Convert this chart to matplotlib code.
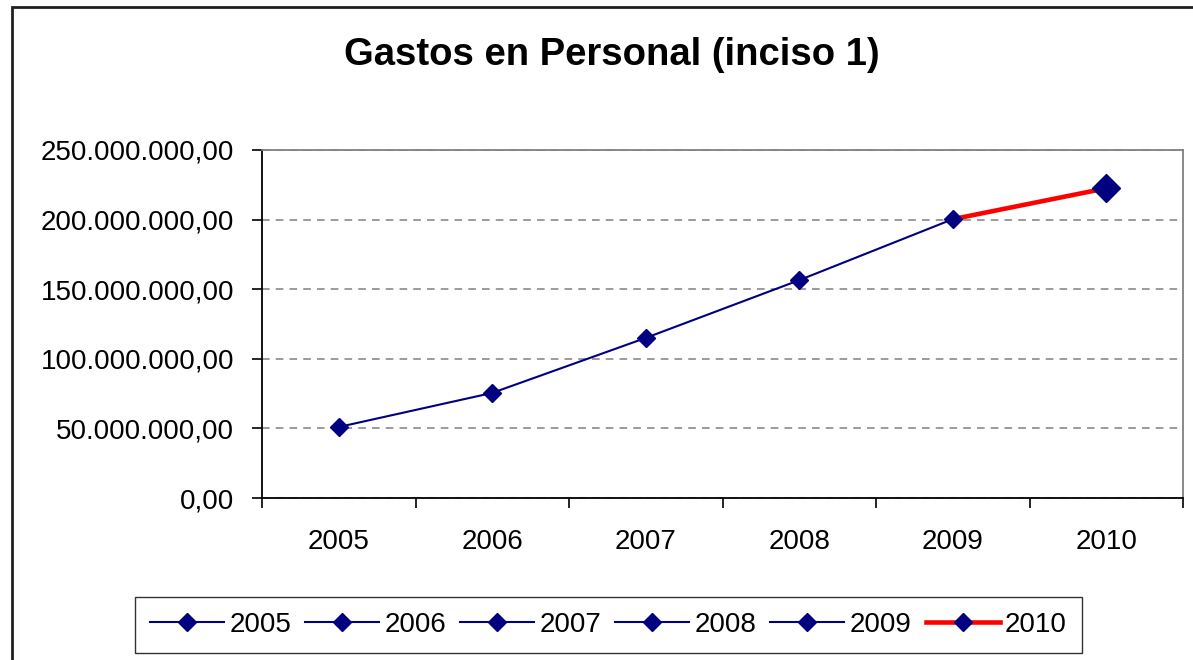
import numpy as np
import matplotlib.pyplot as plt
from matplotlib.lines import Line2D
from matplotlib.patches import Rectangle
from matplotlib.ticker import FuncFormatter, MultipleLocator

plt.rcParams['font.family'] = ['Liberation Sans', 'DejaVu Sans']

# ---------- data ----------
years = ['2005', '2006', '2007', '2008', '2009', '2010']
gastos = [51.0e6, 75.5e6, 115.0e6, 156.5e6, 200.3e6, 222.5e6]
legend_labels = ['2005', '2006', '2007', '2008', '2009', '2010']
title = 'Gastos en Personal (inciso 1)'

navy = '#000080'
red = '#ff0000'
W, H, DPI = 1193, 660, 100


def fmt_es(v, pos=None):
    s = '{:,.2f}'.format(v)
    return s.replace(',', 'X').replace('.', ',').replace('X', '.')


# ---------- plotting ----------
fig = plt.figure(figsize=(W / DPI, H / DPI), dpi=DPI)
ax = fig.add_axes([262 / W, 1 - 498 / H, (1183 - 262) / W, (498 - 150) / H])

x = np.arange(len(years))

# red segment (last two points)
ax.plot(x[4:], gastos[4:], color=red, lw=3.3, zorder=2, solid_capstyle='butt')
# main series
ax.plot(x[:5], gastos[:5], color=navy, lw=1.5, marker='D', ms=8.7,
        markeredgecolor=navy, zorder=3)
# last point, bigger marker
ax.plot(x[5:], gastos[5:], linestyle='none', marker='D', ms=14.5,
        color=navy, zorder=4)

ax.set_xlim(-0.5, len(years) - 0.5)
ax.set_ylim(0, 250e6)
ax.yaxis.set_major_locator(MultipleLocator(50e6))
ax.yaxis.set_major_formatter(FuncFormatter(fmt_es))

# category boundaries get the tick marks, labels sit in between
ax.set_xticks(np.arange(len(years) + 1) - 0.5, minor=False)
ax.set_xticklabels([])
ax.set_xticks(x, minor=True)
ax.set_xticklabels(years, minor=True)
ax.tick_params(axis='x', which='minor', length=0, labelsize=20, pad=22)
ax.tick_params(axis='x', which='major', direction='out', length=7, width=1.2, color='black')
ax.tick_params(axis='y', direction='out', length=7, width=1.2, labelsize=20, pad=13)

ax.grid(axis='y', color='#808080', linestyle=(0, (5, 4)), linewidth=1.1)
ax.set_axisbelow(True)

for side in ['left', 'bottom']:
    ax.spines[side].set_color('black')
    ax.spines[side].set_linewidth(1.3)
for side in ['top', 'right']:
    ax.spines[side].set_color('#808080')
    ax.spines[side].set_linewidth(1.3)

fig.text(612 / W, 1 - 65 / H, title, ha='center', va='baseline',
         fontsize=27.5, fontweight='bold')

# legend
handles = []
for lab in legend_labels:
    if lab == '2010':
        h = Line2D([], [], color=red, lw=3.3, marker='D', ms=8.7,
                   markerfacecolor=navy, markeredgecolor=navy)
    else:
        h = Line2D([], [], color=navy, lw=1.5, marker='D', ms=8.7,
                   markeredgecolor=navy)
    handles.append(h)

leg = fig.legend(handles, legend_labels, loc='center', bbox_to_anchor=(0.51, 0.053),
                 ncol=6, fontsize=20, frameon=True, fancybox=False,
                 edgecolor='black', handlelength=2.66, handletextpad=0.2,
                 columnspacing=0.5, borderpad=0.55, borderaxespad=0)
leg.get_frame().set_linewidth(1.0)

# outer chart border
fig.patches.append(Rectangle((12 / W, -0.02), 1.05, 1 - 7 / H + 0.02,
                             transform=fig.transFigure, fill=False,
                             edgecolor='#202020', linewidth=2.0))

fig.savefig('out.png', dpi=DPI)
